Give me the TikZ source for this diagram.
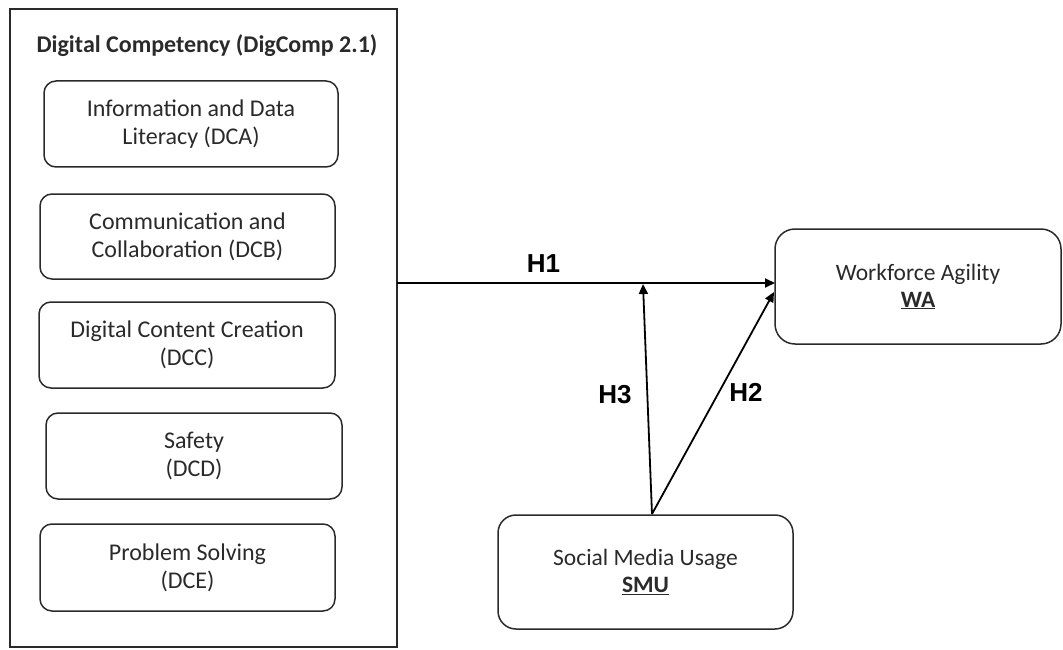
\documentclass[tikz,border=0pt]{standalone}
\usepackage{fontspec}
\setmainfont{Carlito}
\newfontfamily\hfont{Liberation Sans}
\usetikzlibrary{arrows.meta}
\definecolor{ink}{HTML}{2A2A2A}
\tikzset{
  every node/.style={inner sep=0pt, outer sep=0pt, text=ink},
  dimbox/.style={draw=ink, line width=1.5pt, rounded corners=12pt, align=center,
    font=\fontsize{24}{28}\selectfont},
  bigbox/.style={draw=ink, line width=1.5pt, rounded corners=18pt, align=center,
    font=\fontsize{23.5}{27}\selectfont},
  hyp/.style={draw=black, line width=1.8pt, -{Triangle[length=10pt,width=9pt]}},
  hlabel/.style={font=\hfont\bfseries\fontsize{26}{30}\selectfont, text=black}
}
\begin{document}
\begin{tikzpicture}[x=1pt,y=-1pt]
\useasboundingbox (0,0) rectangle (1063,650);
% outer container
\node[draw=ink, line width=1.5pt, minimum width=387pt, minimum height=638pt] (dc) at (203.5,328) {};
\node[font=\bfseries\fontsize{24}{28}\selectfont] (title) at (207,46) {Digital Competency (DigComp 2.1)};
% sub-dimensions
\node[dimbox, minimum width=294pt, minimum height=86pt] (dca) at (191,124) {Information and Data\\Literacy (DCA)};
\node[dimbox, minimum width=295pt, minimum height=85pt] (dcb) at (187.5,236.5) {Communication and\\Collaboration (DCB)};
\node[dimbox, minimum width=296pt, minimum height=86pt] (dcc) at (187,345) {Digital Content Creation\\(DCC)};
\node[dimbox, minimum width=296pt, minimum height=86pt] (dcd) at (194,456) {Safety\\(DCD)};
\node[dimbox, minimum width=295pt, minimum height=87pt] (dce) at (187.5,567.5) {Problem Solving\\(DCE)};
% outcome and moderator
\node[bigbox, rounded corners=20pt, minimum width=286pt, minimum height=115pt] (wa) at (918,286.5) {Workforce Agility\\\underline{\textbf{WA}}};
\node[bigbox, minimum width=295pt, minimum height=114pt] (smu) at (645.5,572) {Social Media Usage\\\underline{\textbf{SMU}}};
% connector anchors
\coordinate (h1y) at (0,283);
\coordinate (smutop) at (652,514);
\coordinate (h3end) at (643,284);
\coordinate (h2end) at (774,292);
% hypotheses
\draw[hyp] (dc.east |- h1y) -- (wa.west |- h1y);
\draw[hyp] (smutop) -- (h3end);
\draw[hyp] (smutop) -- (h2end);
\node[hlabel] (lh1) at (543.5,264) {H1};
\node[hlabel] (lh3) at (615,395) {H3};
\node[hlabel] (lh2) at (746,392) {H2};
\end{tikzpicture}
\end{document}
